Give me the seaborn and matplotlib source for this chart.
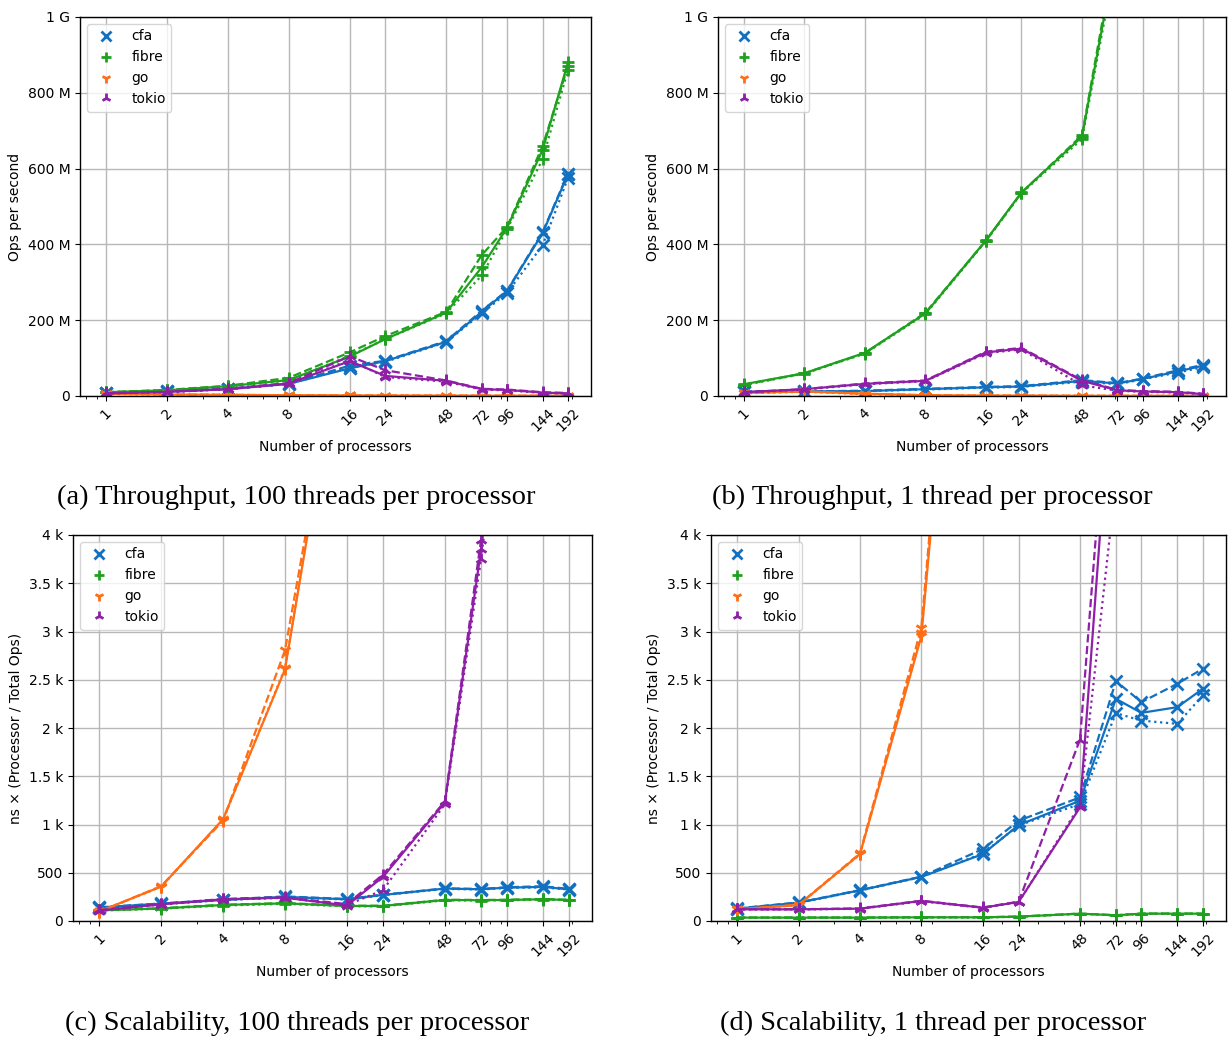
import matplotlib
matplotlib.use("Agg")
import matplotlib.pyplot as plt
from matplotlib.ticker import EngFormatter, NullFormatter, FixedLocator
from matplotlib.lines import Line2D
import seaborn as sns
import pandas as pd

# ---------------- data ----------------
procs = [1, 2, 4, 8, 16, 24, 48, 72, 96, 144, 192]
proc_labels = ["1", "2", "4", "8", "16", "24", "48", "72", "96", "144", "192"]
series_names = ["cfa", "fibre", "go", "tokio"]
run_styles = ["-", "--", ":"]

# (a) Throughput, 100 threads per processor  (millions of ops / s), runs: solid, dashed, dotted
a_cfa = [[8, 12, 18, 32, 73, 92, 143, 222, 277, 430, 585],
         [8, 12, 19, 33, 80, 93, 145, 225, 278, 433, 587],
         [7, 11, 18, 32, 75, 90, 142, 218, 272, 398, 575]]
a_fibre = [[10, 15, 26, 42, 104, 150, 220, 340, 444, 650, 880],
           [10, 16, 27, 48, 115, 158, 222, 372, 446, 660, 870],
           [10, 15, 25, 41, 106, 150, 218, 318, 440, 625, 860]]
a_go = [[6, 4, 3, 2, 1.5, 1.2, 1, 0.8, 0.7, 0.6, 0.5],
        [6, 4, 3, 2, 1.5, 1.2, 1, 0.8, 0.7, 0.6, 0.5],
        [5, 4, 3, 2, 1.4, 1.1, 1, 0.8, 0.7, 0.6, 0.5]]
a_tokio = [[7, 11, 18, 33, 92, 53, 40, 18, 16, 9, 7],
           [7, 11, 19, 34, 105, 68, 41, 19, 17, 10, 8],
           [7, 10, 18, 32, 95, 50, 38, 17, 15, 8, 6]]

# (b) Throughput, 1 thread per processor (millions of ops / s)
b_cfa = [[11, 12, 13, 18, 23, 25, 40, 33, 45, 65, 80],
         [12, 12, 14, 19, 24, 26, 42, 34, 46, 68, 82],
         [10, 11, 13, 17, 22, 24, 38, 31, 44, 62, 76]]
b_fibre = [[31, 60, 114, 218, 411, 537, 684, 1190, 1500, 2000, 2500],
           [30, 60, 113, 220, 410, 536, 688, 1210, 1520, 2020, 2520],
           [29, 59, 112, 216, 409, 535, 678, 1170, 1480, 1980, 2480]]
b_go = [[8, 12, 6, 2, 1, 1, 0.5, 0.5, 0.4, 0.3, 0.3],
        [8, 12, 6, 2, 1, 1, 0.5, 0.5, 0.4, 0.3, 0.3],
        [7, 11, 5, 2, 1, 1, 0.5, 0.5, 0.4, 0.3, 0.3]]
b_tokio = [[10, 18, 32, 40, 115, 125, 40, 15, 12, 10, 5],
           [10, 18, 33, 41, 117, 127, 42, 16, 13, 11, 6],
           [9, 17, 31, 39, 113, 123, 28, 14, 11, 9, 5]]

# (c) Scalability, 100 threads per processor (ns x processor / total ops)
c_cfa = [[140, 180, 218, 250, 225, 270, 336, 329, 346, 353, 329],
         [142, 182, 222, 255, 228, 272, 338, 332, 350, 360, 333],
         [138, 178, 215, 248, 222, 268, 333, 326, 343, 348, 326]]
c_fibre = [[110, 130, 166, 183, 156, 156, 218, 215, 218, 225, 218],
           [112, 132, 168, 186, 158, 158, 220, 218, 220, 228, 220],
           [108, 128, 160, 178, 152, 152, 214, 212, 215, 222, 216]]
c_go = [[100, 357, 1056, 2607, 6430, 9500, 19000, 28000, 38000, 56000, 75000],
        [95, 362, 1040, 2805, 6390, 9400, 18800, 27800, 37800, 55800, 74800],
        [98, 355, 1050, 2620, 6450, 9550, 19100, 28100, 38100, 56100, 75100]]
c_tokio = [[110, 173, 225, 242, 160, 457, 1229, 3850, 6000, 9000, 12000],
           [112, 175, 228, 245, 175, 480, 1240, 3950, 6100, 9100, 12100],
           [108, 170, 222, 240, 165, 320, 1210, 3750, 5900, 8900, 11900]]

# (d) Scalability, 1 thread per processor (ns x processor / total ops)
d_cfa = [[128, 190, 318, 457, 693, 994, 1246, 2302, 2157, 2216, 2406],
         [130, 192, 320, 460, 745, 1039, 1281, 2486, 2268, 2458, 2614],
         [126, 188, 315, 455, 700, 990, 1212, 2154, 2077, 2043, 2337]]
d_fibre = [[35, 35, 35, 38, 38, 45, 76, 59, 76, 76, 76],
           [36, 36, 36, 39, 39, 46, 77, 60, 77, 77, 77],
           [34, 34, 34, 37, 37, 44, 75, 58, 75, 75, 75]]
d_go = [[121, 166, 693, 2950, 10000, 15000, 30000, 45000, 60000, 90000, 120000],
        [122, 168, 700, 3040, 10300, 15300, 30300, 45300, 60300, 90300, 120300],
        [120, 165, 690, 2980, 10100, 15100, 30100, 45100, 60100, 90100, 120100]]
d_tokio = [[121, 121, 128, 208, 138, 197, 1177, 6258, 9000, 12000, 15000],
           [122, 122, 130, 210, 140, 200, 1880, 6650, 9500, 12500, 15500],
           [120, 120, 126, 205, 136, 195, 1200, 4560, 8000, 11000, 14000]]

captions = ["(a) Throughput, 100 threads per processor",
            "(b) Throughput, 1 thread per processor",
            "(c) Scalability, 100 threads per processor",
            "(d) Scalability, 1 thread per processor"]
ylabels = ["Ops per second", "Ops per second",
           "ns \u00d7 (Processor / Total Ops)", "ns \u00d7 (Processor / Total Ops)"]

# ---------------- style ----------------
colors = {"cfa": "#1170c0", "fibre": "#1fa01f", "go": "#ff6d14", "tokio": "#8e1fa6"}
markers = {"cfa": "x", "fibre": "+", "go": "1", "tokio": "2"}

plt.rcParams["font.family"] = ["DejaVu Sans"]
plt.rcParams["font.size"] = 10

fig = plt.figure(figsize=(12.28, 10.38), dpi=100)
fig.patch.set_facecolor("white")

W, H = 1228.0, 1038.0
boxes = [(80, 17, 591, 396), (718, 17, 1226, 396),
         (73, 535, 592, 921), (711, 535, 1226, 921)]

panels = [
    dict(data={"cfa": a_cfa, "fibre": a_fibre, "go": a_go, "tokio": a_tokio}, scale=1e6, ymax=1e9, ystep=200e6),
    dict(data={"cfa": b_cfa, "fibre": b_fibre, "go": b_go, "tokio": b_tokio}, scale=1e6, ymax=1e9, ystep=200e6),
    dict(data={"cfa": c_cfa, "fibre": c_fibre, "go": c_go, "tokio": c_tokio}, scale=1.0, ymax=4000, ystep=500),
    dict(data={"cfa": d_cfa, "fibre": d_fibre, "go": d_go, "tokio": d_tokio}, scale=1.0, ymax=4000, ystep=500),
]

caption_pos = [(296, 497), (932, 497), (297, 1023), (933, 1023)]

for i, (p, (x0, y0, x1, y1)) in enumerate(zip(panels, boxes)):
    ax = fig.add_axes([x0 / W, 1 - y1 / H, (x1 - x0) / W, (y1 - y0) / H])
    ax.set_axisbelow(True)
    for name in series_names:
        for run, ls in zip(p["data"][name], run_styles):
            df = pd.DataFrame({"procs": procs, "value": [v * p["scale"] for v in run]})
            sns.lineplot(data=df, x="procs", y="value", ax=ax, estimator=None,
                         color=colors[name], linestyle=ls, linewidth=1.6,
                         marker=markers[name], markersize=9, markeredgewidth=2,
                         markeredgecolor=colors[name], markerfacecolor=colors[name],
                         legend=False)
    ax.set_xscale("log")
    ax.xaxis.set_major_locator(FixedLocator(procs))
    ax.set_xticks(procs)
    ax.set_xticklabels(proc_labels, rotation=45, ha="center")
    ax.xaxis.set_minor_formatter(NullFormatter())
    ax.set_xlim(0.744, 249.6)
    ax.set_ylim(0, p["ymax"])
    yt = [k * p["ystep"] for k in range(int(round(p["ymax"] / p["ystep"])) + 1)]
    ax.set_yticks(yt)
    ax.yaxis.set_major_formatter(EngFormatter(sep=" "))
    ax.grid(True, which="major", color="#b8b8b8", linewidth=1.0)
    ax.set_xlabel("Number of processors", fontsize=10)
    ax.set_ylabel(ylabels[i], fontsize=10)
    ax.tick_params(labelsize=10)
    for s in ax.spines.values():
        s.set_color("black")
        s.set_linewidth(1.0)
    handles = [Line2D([], [], linestyle="none", marker=markers[n], color=colors[n],
                      markersize=7, markeredgewidth=2) for n in series_names]
    ax.legend(handles, series_names, loc="upper left", fontsize=10,
              framealpha=0.8, edgecolor="0.8")
    cx, cy = caption_pos[i]
    fig.text(cx / W, 1 - cy / H, captions[i], ha="center", va="center",
             family=["Liberation Serif", "DejaVu Serif"], fontsize=20.5)

fig.savefig("out.png", dpi=100, facecolor="white")
